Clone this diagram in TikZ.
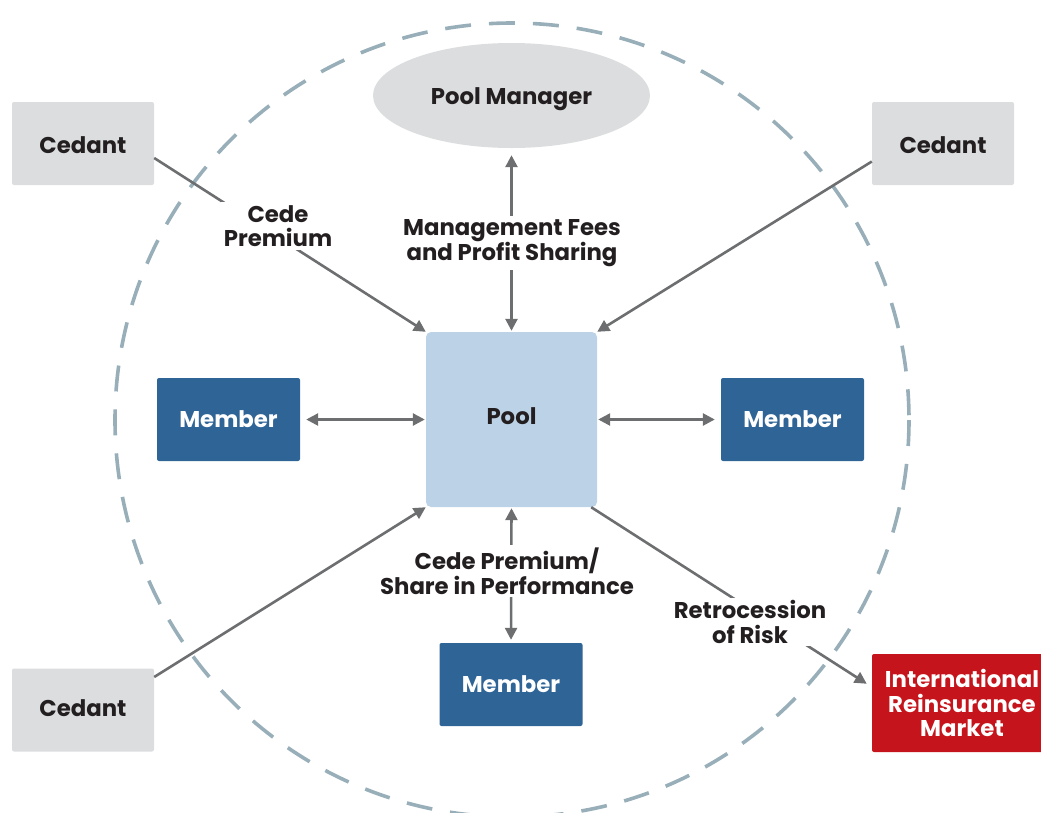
\documentclass[tikz,border=0pt]{standalone}
\usepackage{fontspec}
\setmainfont{Poppins}
\usetikzlibrary{arrows.meta,shapes.geometric}
\definecolor{txt}{HTML}{231F20}
\definecolor{arr}{HTML}{6D6E70}
\definecolor{ring}{HTML}{98AFBA}
\definecolor{greybox}{HTML}{DCDDDF}
\definecolor{memblue}{HTML}{2F6496}
\definecolor{poolblue}{HTML}{BCD3E7}
\definecolor{irmred}{HTML}{C5141B}
\newcommand{\shiftv}[2]{\raisebox{#1}[\height][\depth]{#2}}
\tikzset{
  base/.style={font=\fontsize{22.8}{24.5}\selectfont\bfseries, align=center, inner sep=0pt},
  cedantbox/.style={base, rectangle, rounded corners=2pt, fill=greybox, text=txt, minimum width=142pt, minimum height=83pt},
  memberbox/.style={base, rectangle, rounded corners=2pt, fill=memblue, text=white, minimum width=143pt, minimum height=83pt},
  poolbox/.style={base, rectangle, rounded corners=5pt, fill=poolblue, text=txt, minimum width=171pt, minimum height=175pt},
  mgrbox/.style={base, ellipse, fill=greybox, text=txt, minimum width=277pt, minimum height=105pt},
  irmbox/.style={base, rectangle, rounded corners=2pt, fill=irmred, text=white, minimum width=180pt, minimum height=98pt},
  lab/.style={base, fill=white, text=txt, inner sep=3pt},
  conn/.style={draw=arr, line width=2.6pt, -{Triangle[length=12pt,width=12pt]}},
  dconn/.style={draw=arr, line width=2.6pt, {Triangle[length=12pt,width=12pt]}-{Triangle[length=12pt,width=12pt]}},
}
\begin{document}
\begin{tikzpicture}[x=1pt,y=-1pt]
\path[use as bounding box] (0,0) rectangle (1041,812);
% dashed ring
\draw[ring, line width=3.6pt, dash pattern=on 26pt off 18pt] (512,420) circle[radius=397];
% nodes
\node[mgrbox] (mgr) at (511.5,95.5) {\shiftv{-3.5pt}{Pool Manager}};
\node[poolbox] (pool) at (511.5,419.5) {\shiftv{3pt}{Pool}};
\node[cedantbox] (cedTL) at (83,143.5) {\shiftv{-2pt}{Cedant}};
\node[cedantbox] (cedTR) at (943,143.5) {\shiftv{-2pt}{Cedant}};
\node[cedantbox] (cedBL) at (83,710) {\shiftv{2pt}{Cedant}};
\node[memberbox] (memL) at (228.5,419.5) {Member};
\node[memberbox] (memR) at (792.5,419.5) {Member};
\node[memberbox] (memB) at (511,684.5) {Member};
\node[irmbox] (irm) at (962,703) {International\\Reinsurance\\Market};
% connectors
\draw[conn] ([yshift=-14.5pt]cedTL.east) -- (pool.north west);
\draw[conn] ([yshift=-18pt]cedTR.west) -- (pool.north east);
\draw[conn] ([yshift=33pt]cedBL.east) -- (pool.south west);
\draw[dconn, shorten <=7pt, shorten >=1pt] (mgr.south) -- (pool.north);
\draw[dconn, shorten <=6pt, shorten >=1pt] (memL.east) -- (pool.west);
\draw[dconn, shorten <=1pt, shorten >=6pt] (pool.east) -- (memR.west);
\draw[dconn, shorten <=1pt, shorten >=3pt] (pool.south) -- (memB.north);
\draw[conn, shorten >=6pt] ([xshift=-6pt]pool.south east) -- ([yshift=16pt]irm.west);
% labels
\node[lab] (l1) at (278,226) {Cede\\Premium};
\node[lab] (l2) at (512,243) {Management Fees\\and Profit Sharing};
\node[lab] (l3) at (507,571) {Cede Premium/\\Share in Performance};
\node[lab] (l4) at (750,622) {Retrocession\\of Risk};
\end{tikzpicture}
\end{document}
